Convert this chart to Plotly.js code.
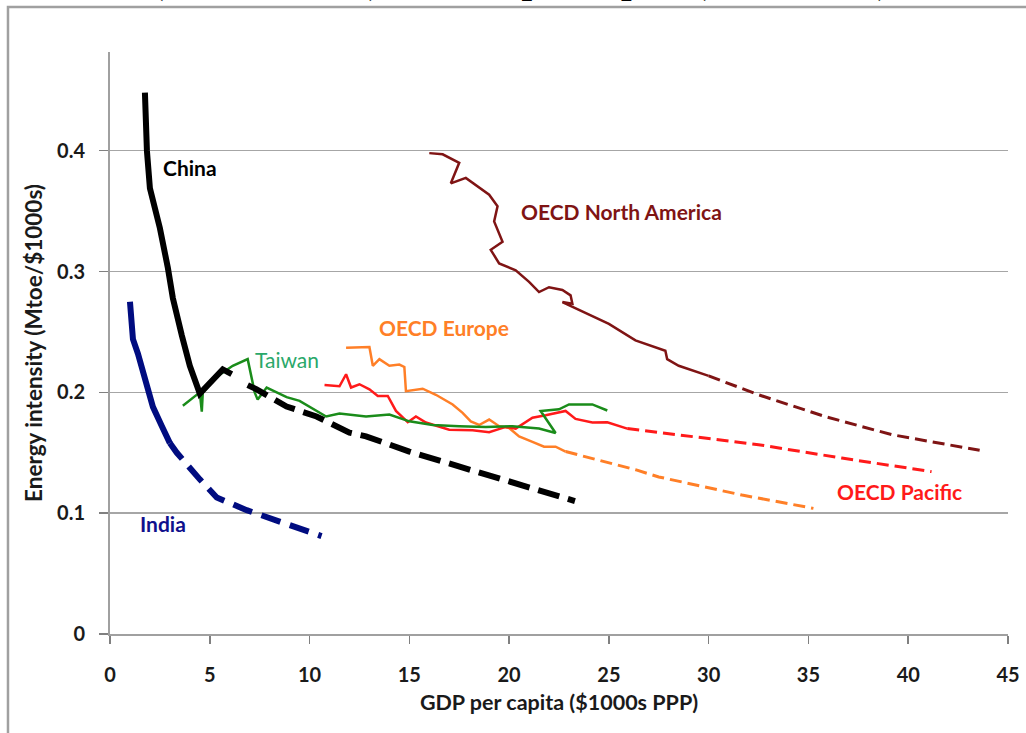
<!DOCTYPE html>
<html>
<head>
<meta charset="utf-8">
<script src="https://cdn.plot.ly/plotly-3.0.1.min.js"></script>
<style>
  html, body { margin: 0; padding: 0; background: #ffffff; }
  #chart { width: 1026px; height: 733px; }
</style>
</head>
<body>
<div id="chart"></div>
<script>
// ---- Data ----
// China, historical (solid) and projection (dashed)
var chinaX = [1.75, 1.85, 2.0, 2.5, 2.9, 3.15, 3.6, 4.0, 4.5, 5.0, 5.65, 6.1];
var chinaY = [0.448, 0.400, 0.369, 0.336, 0.303, 0.278, 0.247, 0.222, 0.199, 0.207, 0.219, 0.215];
var chinaProjX = [6.9, 7.35, 8.85, 10.35, 12.0, 12.83, 15.0, 17.83, 20.5, 23.3];
var chinaProjY = [0.206, 0.2025, 0.1883, 0.180, 0.1667, 0.1636, 0.151, 0.137, 0.123, 0.110];

// India
var indiaX = [1.0, 1.1, 1.15, 1.4, 1.65, 2.15, 2.6, 3.0];
var indiaY = [0.275, 0.255, 0.244, 0.232, 0.217, 0.188, 0.172, 0.158];
var indiaProjX = [3.0, 3.35, 4.5, 5.35, 6.85, 8.35, 10.6];
var indiaProjY = [0.158, 0.150, 0.128, 0.113, 0.1025, 0.094, 0.081];

// Taiwan
var taiwanX = [3.65, 4.3, 4.5, 4.6, 4.65, 5.35, 6.15, 6.9, 7.25, 7.4, 7.85, 8.85, 9.5, 10.83, 11.5, 12.83, 14.0, 15.0, 16.17, 17.5, 18.83, 20.17, 21.5, 22.33, 21.58, 22.5, 23.0, 24.17, 24.92];
var taiwanY = [0.189, 0.197, 0.200, 0.184, 0.200, 0.213, 0.222, 0.2275, 0.200, 0.194, 0.204, 0.196, 0.193, 0.180, 0.1825, 0.180, 0.1817, 0.176, 0.173, 0.172, 0.1714, 0.172, 0.170, 0.1664, 0.1846, 0.186, 0.190, 0.190, 0.185];

// OECD Europe
var europeX = [11.83, 13.0, 13.17, 13.5, 14.0, 14.5, 14.75, 14.83, 15.67, 16.33, 17.17, 17.67, 18.08, 18.5, 19.0, 19.5, 20.0, 20.5, 21.17, 21.75, 22.33, 22.83];
var europeY = [0.237, 0.2375, 0.222, 0.2275, 0.222, 0.223, 0.221, 0.201, 0.203, 0.198, 0.190, 0.183, 0.176, 0.173, 0.1775, 0.172, 0.1705, 0.1636, 0.159, 0.155, 0.155, 0.151];
var europeProjX = [22.83, 26.33, 27.5, 31.67, 35.25];
var europeProjY = [0.151, 0.136, 0.130, 0.115, 0.104];

// OECD Pacific
var pacificX = [10.75, 11.5, 11.83, 12.0, 12.08, 12.5, 13.0, 13.42, 13.92, 14.33, 14.92, 15.33, 15.83, 17.0, 18.17, 19.0, 19.83, 20.33, 21.17, 21.83, 22.83, 23.33, 24.17, 24.92, 25.92];
var pacificY = [0.206, 0.205, 0.215, 0.208, 0.204, 0.2067, 0.2025, 0.197, 0.197, 0.1846, 0.1753, 0.180, 0.175, 0.169, 0.1686, 0.167, 0.1714, 0.170, 0.179, 0.181, 0.1846, 0.178, 0.175, 0.1753, 0.170];
var pacificProjX = [25.92, 28.33, 32.5, 36.67, 41.17];
var pacificProjY = [0.170, 0.165, 0.1567, 0.1456, 0.1344];

// OECD North America
var naX = [16.0, 16.67, 17.5, 17.08, 17.83, 19.0, 19.42, 19.25, 19.67, 19.08, 19.5, 20.33, 21.0, 21.5, 22.0, 22.67, 23.08, 23.17, 22.67, 24.33, 25.0, 26.33, 27.83, 27.92, 28.5, 30.0];
var naY = [0.398, 0.397, 0.390, 0.373, 0.3775, 0.3636, 0.354, 0.3414, 0.3247, 0.318, 0.3067, 0.301, 0.2914, 0.283, 0.287, 0.2847, 0.2803, 0.2733, 0.2747, 0.262, 0.2567, 0.243, 0.2344, 0.2275, 0.222, 0.2136];
var naProjX = [30.0, 32.5, 35.83, 39.17, 43.58];
var naProjY = [0.2136, 0.198, 0.180, 0.165, 0.152];

// Labels
var labelText = ["China", "OECD North America", "OECD Europe", "Taiwan", "OECD Pacific", "India"];
var labelX = [4.0, 25.65, 16.73, 8.87, 39.58, 2.66];
var labelY = [0.386, 0.350, 0.254, 0.227, 0.1177, 0.0912];
var labelColor = ["#000000", "#7f1414", "#ff7f27", "#2aa86a", "#ff1a1a", "#10108c"];
var labelBold = [true, true, true, false, true, true];

var xTicks = [0, 5, 10, 15, 20, 25, 30, 35, 40, 45];
var yTicks = [0, 0.1, 0.2, 0.3, 0.4];
var yTickText = ["0", "0.1", "0.2", "0.3", "0.4"];

var chartTitle = "(Mtoe/$1000s) vs GDP per capita (1971–2035)";

// ---- Traces ----
function line(x, y, color, width, dash) {
  return {
    type: 'scatter', mode: 'lines', x: x, y: y, hoverinfo: 'skip',
    line: { color: color, width: width, dash: dash || 'solid', shape: 'linear' },
    showlegend: false
  };
}

var traces = [
  line(naX, naY, '#7f1414', 2.5),
  line(naProjX, naProjY, '#7f1414', 3, '12px,6px'),
  line(europeProjX, europeProjY, '#ff7f27', 3, '12px,6px'),
  line(pacificProjX, pacificProjY, '#ff1a1a', 3, '12px,6px'),
  line(europeX, europeY, '#ff7f27', 2.5),
  line(pacificX, pacificY, '#ff1a1a', 2.5),
  line(taiwanX, taiwanY, '#1a8c1a', 2.5),
  line(chinaProjX, chinaProjY, '#000000', 6, '22px,9px'),
  line(indiaProjX, indiaProjY, '#000c80', 6, '20px,10px'),
  line(indiaX, indiaY, '#000c80', 6),
  line(chinaX, chinaY, '#000000', 6)
];

var labelFont = 'Lato, "Open Sans", sans-serif';

var annotations = labelText.map(function (t, i) {
  return {
    x: labelX[i], y: labelY[i], xref: 'x', yref: 'y',
    text: labelBold[i] ? '<b>' + t + '</b>' : t,
    showarrow: false, xanchor: 'center', yanchor: 'middle',
    font: { family: labelFont, size: 21, color: labelColor[i] }
  };
});

// Title of the original figure: it is cut off at the top edge, only descenders show
annotations.push({
  x: 0.4566, y: 1.0817, xref: 'paper', yref: 'paper',
  xanchor: 'center', yanchor: 'bottom', showarrow: false,
  text: '<b>' + chartTitle + '</b>',
  font: { family: '"Liberation Serif", serif', size: 38, color: '#000000' }
});

var axisFont = { family: labelFont, size: 20, color: '#1a1a1a', weight: 'bold' };

var layout = {
  width: 1026, height: 733,
  margin: { l: 110, r: 18, t: 52, b: 99 },
  paper_bgcolor: '#ffffff', plot_bgcolor: '#ffffff',
  xaxis: {
    range: [0, 45], tickvals: xTicks, ticktext: xTicks.map(String),
    showgrid: false, zeroline: false, showline: true, linecolor: '#a0a0a0', linewidth: 2,
    ticks: 'outside', ticklen: 8, tickwidth: 1.5, tickcolor: '#808080',
    tickfont: axisFont, ticklabelstandoff: 14,
    title: { text: '<b>GDP per capita ($1000s PPP)</b>', font: { family: labelFont, size: 21.5, color: '#1a1a1a' }, standoff: 10 },
    fixedrange: true
  },
  yaxis: {
    range: [0, 0.4817], tickvals: yTicks, ticktext: yTickText,
    showgrid: true, gridcolor: '#a6a6a6', gridwidth: 1.5,
    zeroline: false, showline: true, linecolor: '#a0a0a0', linewidth: 2,
    ticks: 'outside', ticklen: 9, tickwidth: 1.5, tickcolor: '#808080',
    tickfont: axisFont, ticklabelstandoff: 10,
    title: { text: '<b>Energy intensity (Mtoe/$1000s)</b>', font: { family: labelFont, size: 22.5, color: '#1a1a1a' }, standoff: 8 },
    fixedrange: true
  },
  shapes: [{
    type: 'path', xref: 'paper', yref: 'paper',
    path: 'M -0.1136 -0.3 L -0.1136 1.0773 L 1.2 1.0773',
    line: { color: '#a0a0a0', width: 2.5 }, layer: 'below'
  }],
  annotations: annotations,
  showlegend: false
};

Plotly.newPlot('chart', traces, layout, { displayModeBar: false, staticPlot: true });
</script>
</body>
</html>
